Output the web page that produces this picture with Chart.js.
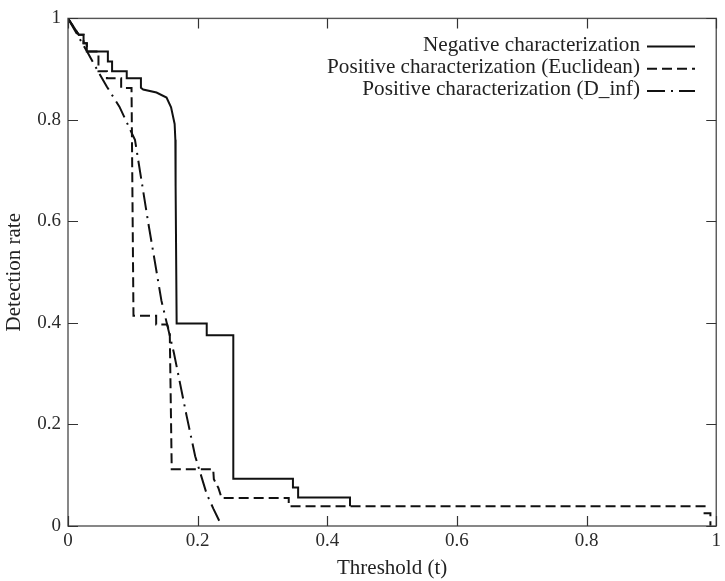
<!DOCTYPE html>
<html>
<head>
<meta charset="utf-8">
<script src="https://cdn.jsdelivr.net/npm/chart.js@4.4.1/dist/chart.umd.min.js"></script>
<style>
  html, body { margin: 0; padding: 0; background: #ffffff; }
  #wrap { width: 725px; height: 581px; }
</style>
</head>
<body>
<div id="wrap"><canvas id="c" width="725" height="581"></canvas></div>
<script>
// Tick values on both axes
const xTicks = [0, 0.2, 0.4, 0.6, 0.8, 1];
const yTicks = [0, 0.2, 0.4, 0.6, 0.8, 1];

// Series labels
const seriesNames = [
  'Negative characterization',
  'Positive characterization (Euclidean)',
  'Positive characterization (D_inf)'
];

// Negative characterization: threshold / detection rate
const negX = [0, 0.0165, 0.024, 0.024, 0.029, 0.029, 0.0615, 0.0615, 0.068, 0.068, 0.0906, 0.0906,
              0.1125, 0.1125, 0.116, 0.1365, 0.152, 0.159, 0.1645, 0.1656, 0.166, 0.1676,
              0.214, 0.214, 0.255, 0.255, 0.347, 0.347, 0.355, 0.355, 0.435, 0.435];
const negY = [1, 0.968, 0.968, 0.951, 0.951, 0.935, 0.935, 0.915, 0.915, 0.896, 0.896, 0.882,
              0.882, 0.8635, 0.860, 0.854, 0.844, 0.825, 0.792, 0.761, 0.67, 0.399,
              0.399, 0.376, 0.376, 0.093, 0.093, 0.076, 0.076, 0.056, 0.056, 0.039];

// Positive characterization, Euclidean distance
const eucX = [0, 0.0165, 0.024, 0.024, 0.029, 0.029, 0.047, 0.047, 0.060, 0.060, 0.082, 0.082,
              0.098, 0.101, 0.136, 0.136, 0.153, 0.157, 0.160, 0.224, 0.225, 0.232, 0.237,
              0.3405, 0.3405, 0.982, 0.982, 0.991, 0.991];
const eucY = [1, 0.968, 0.968, 0.951, 0.951, 0.935, 0.935, 0.896, 0.896, 0.882, 0.882, 0.863,
              0.863, 0.414, 0.414, 0.397, 0.397, 0.38, 0.112, 0.112, 0.092, 0.075, 0.055,
              0.055, 0.039, 0.039, 0.025, 0.025, 0];

// Positive characterization, D_inf distance
const dinfX = [0, 0.0294, 0.0462, 0.060, 0.0793, 0.0926, 0.1033, 0.1135, 0.1236, 0.1339, 0.1441,
               0.1634, 0.1833, 0.1962, 0.2139, 0.2242, 0.2372];
const dinfY = [1, 0.9346, 0.8958, 0.8654, 0.8261, 0.790, 0.7606, 0.6796, 0.5988, 0.5214, 0.444,
               0.3408, 0.2149, 0.1375, 0.0633, 0.0343, 0];

const toPoints = (xs, ys) => xs.map((x, i) => ({ x: x, y: ys[i] }));

const SERIF = '"Liberation Serif", "DejaVu Serif", serif';
const fmt = v => (v === 0 || v === 1) ? String(v) : v.toFixed(1);

// Frame with inward ticks on all four sides
const framePlugin = {
  id: 'frame',
  afterDatasetsDraw(chart) {
    const { ctx, chartArea: a, scales } = chart;
    ctx.save();
    ctx.strokeStyle = '#555555';
    ctx.lineWidth = 1.4;
    ctx.strokeRect(a.left, a.top, a.right - a.left, a.bottom - a.top);
    ctx.lineWidth = 1.2;
    ctx.strokeStyle = '#333333';
    const len = 10;
    ctx.beginPath();
    xTicks.forEach(v => {
      const px = Math.round(scales.x.getPixelForValue(v)) + 0.5;
      ctx.moveTo(px, a.bottom); ctx.lineTo(px, a.bottom - len);
      ctx.moveTo(px, a.top); ctx.lineTo(px, a.top + len);
    });
    yTicks.forEach(v => {
      const py = Math.round(scales.y.getPixelForValue(v)) + 0.5;
      ctx.moveTo(a.left, py); ctx.lineTo(a.left + len, py);
      ctx.moveTo(a.right, py); ctx.lineTo(a.right - len, py);
    });
    ctx.stroke();
    ctx.restore();
  }
};

// Legend: right-aligned names followed by a line sample
const legendPlugin = {
  id: 'sideLegend',
  afterDraw(chart, args, opts) {
    const { ctx } = chart;
    ctx.save();
    ctx.font = opts.font;
    ctx.fillStyle = '#222222';
    ctx.textAlign = 'right';
    ctx.textBaseline = 'alphabetic';
    chart.data.datasets.forEach((ds, i) => {
      const y = opts.top + i * opts.rowGap;
      ctx.fillText(ds.label, opts.textRight, y + 4);
      ctx.beginPath();
      ctx.setLineDash(ds.borderDash || []);
      ctx.lineWidth = ds.borderWidth;
      ctx.strokeStyle = ds.borderColor;
      ctx.moveTo(opts.lineStart, y);
      ctx.lineTo(opts.lineEnd, y);
      ctx.stroke();
    });
    ctx.restore();
  }
};

new Chart(document.getElementById('c'), {
  type: 'line',
  data: {
    datasets: [
      { label: seriesNames[0], data: toPoints(negX, negY), borderColor: '#111111', borderWidth: 2, borderDash: [] },
      { label: seriesNames[1], data: toPoints(eucX, eucY), borderColor: '#111111', borderWidth: 2, borderDash: [10, 5] },
      { label: seriesNames[2], data: toPoints(dinfX, dinfY), borderColor: '#111111', borderWidth: 2, borderDash: [18, 6, 2, 6] }
    ]
  },
  options: {
    responsive: false,
    animation: false,
    devicePixelRatio: 1,
    parsing: false,
    elements: { point: { radius: 0 }, line: { tension: 0, fill: false } },
    layout: { padding: { top: 10, right: 4, left: 0, bottom: 0 } },
    plugins: {
      legend: { display: false },
      tooltip: { enabled: false },
      sideLegend: {
        font: '21.2px ' + SERIF,
        top: 46.5, rowGap: 22.2, textRight: 640, lineStart: 647, lineEnd: 695
      }
    },
    scales: {
      x: {
        type: 'linear', min: 0, max: 1,
        afterBuildTicks: s => { s.ticks = xTicks.map(v => ({ value: v })); },
        afterFit: s => { s.height = 55; },
        grid: { display: false, drawTicks: false },
        border: { display: false },
        ticks: { callback: v => fmt(v), color: '#2a2a2a', padding: 4, maxRotation: 0,
                 font: { family: SERIF, size: 19 } },
        title: { display: true, text: 'Threshold (t)', color: '#222222',
                 font: { family: SERIF, size: 21 }, padding: { top: 0, bottom: 0 } }
      },
      y: {
        type: 'linear', min: 0, max: 1,
        afterBuildTicks: s => { s.ticks = yTicks.map(v => ({ value: v })); },
        afterFit: s => { s.width = 68; },
        grid: { display: false, drawTicks: false },
        border: { display: false },
        ticks: { callback: v => fmt(v), color: '#2a2a2a', padding: 7,
                 font: { family: SERIF, size: 19 } },
        title: { display: true, text: 'Detection rate', color: '#222222',
                 font: { family: SERIF, size: 21 }, padding: { top: 2, bottom: 0 } }
      }
    }
  },
  plugins: [framePlugin, legendPlugin]
});
</script>
</body>
</html>
